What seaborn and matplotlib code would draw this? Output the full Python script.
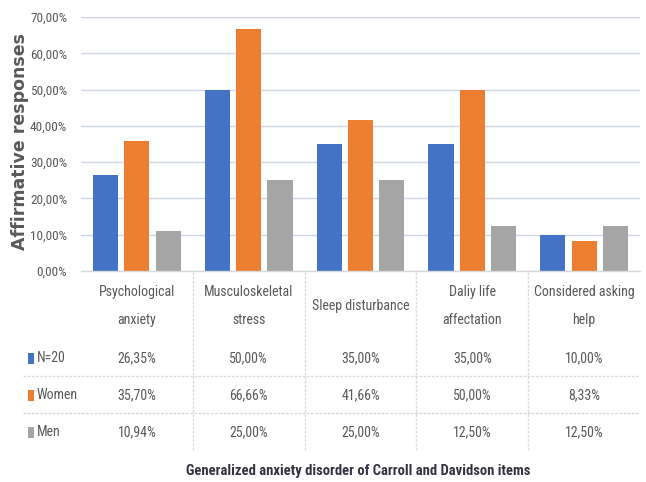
import matplotlib
matplotlib.use("Agg")
import matplotlib.pyplot as plt
from matplotlib.patches import Rectangle
from matplotlib.transforms import blended_transform_factory
import seaborn as sns
import pandas as pd

# Survey items and affirmative-response percentages per group
items = ["Psychological\nanxiety", "Musculoskeletal\nstress", "Sleep disturbance",
         "Daliy life\naffectation", "Considered asking\nhelp"]
series_names = ["N=20", "Women", "Men"]
n20 = [26.35, 50.00, 35.00, 35.00, 10.00]
women = [35.70, 66.66, 41.66, 50.00, 8.33]
men = [10.94, 25.00, 25.00, 12.50, 12.50]
y_ticks = [0, 10, 20, 30, 40, 50, 60, 70]

colors = ["#4472C4", "#ED7D31", "#A5A5A5"]

sns.set_theme(style="white")
plt.rcParams["font.family"] = ["Roboto Condensed", "DejaVu Sans"]
plt.rcParams["font.stretch"] = "condensed"

values = {"N=20": n20, "Women": women, "Men": men}
rows = []
for s in series_names:
    for i, v in enumerate(values[s]):
        rows.append({"item": i, "series": s, "value": v})
df = pd.DataFrame(rows)

W, H = 646, 482
fig = plt.figure(figsize=(W / 100, H / 100), dpi=100)
fig.patch.set_facecolor("white")
ax = fig.add_axes([81 / W, (H - 271) / H, 559 / W, 254 / H])

sns.barplot(data=df, x="item", y="value", hue="series", hue_order=series_names,
            order=list(range(len(items))), palette=colors, saturation=1,
            width=0.84, gap=0.2, legend=False, ax=ax, linewidth=0)

ax.set_xlim(-0.5, len(items) - 0.5)
ax.set_ylim(0, 70)
ax.set_yticks(y_ticks)
ax.set_yticklabels([f"{t:.2f}".replace(".", ",") + "%" for t in y_ticks],
                   fontsize=9.5, color="#595959")
ax.tick_params(axis="y", length=0, pad=10)
ax.set_xticks([])
ax.set_xlabel("")
ax.set_ylabel("")
for sp in ["top", "right", "left"]:
    ax.spines[sp].set_visible(False)
ax.spines["bottom"].set_color("#d9d9d9")
ax.spines["bottom"].set_linewidth(1)
ax.yaxis.grid(True, color="#cfd6e6", linewidth=1)
ax.set_axisbelow(True)

# Data table below the plot
tr = blended_transform_factory(ax.transData, fig.transFigure)
def fy(py):
    return 1 - py / H

txt = dict(fontsize=10, color="#595959")
line_col = "#d9dbe3"
for k in range(1, len(items)):
    ax.plot([k - 0.5, k - 0.5], [fy(272), fy(450)], transform=tr, color=line_col,
            lw=1, clip_on=False, ls=(0, (2, 1)))
for py in (376, 413):
    fig.add_artist(plt.Line2D([23 / W, 640 / W], [fy(py), fy(py)], color=line_col,
                              lw=1, ls=(0, (2, 1))))

for i, name in enumerate(items):
    lines = name.split("\n")
    if len(lines) == 2:
        ax.text(i, fy(292), lines[0], transform=tr, ha="center", va="center", **txt)
        ax.text(i, fy(320), lines[1], transform=tr, ha="center", va="center", **txt)
    else:
        ax.text(i, fy(306), name, transform=tr, ha="center", va="center", **txt)

row_y = [358, 395, 432]
for r, s in enumerate(series_names):
    fig.add_artist(Rectangle((28 / W, fy(row_y[r] + 6)), 6 / W, 11 / H,
                             transform=fig.transFigure, color=colors[r], lw=0))
    fig.text(37 / W, fy(row_y[r]), s, ha="left", va="center", **txt)
    for i, v in enumerate(values[s]):
        ax.text(i, fy(row_y[r]), f"{v:.2f}".replace(".", ",") + "%", transform=tr,
                ha="center", va="center", **txt)

fig.text(20 / W, fy(141), "Affirmative responses", rotation=90, ha="center",
         va="center", fontsize=12.5, fontweight="bold", color="#595959",
         family="DejaVu Sans", stretch="normal")
fig.text(358 / W, fy(471), "Generalized anxiety disorder of Carroll and Davidson items",
         ha="center", va="center", fontsize=10.5, fontweight="bold", color="#333340")

fig.savefig("out.png", dpi=100, facecolor="white")
